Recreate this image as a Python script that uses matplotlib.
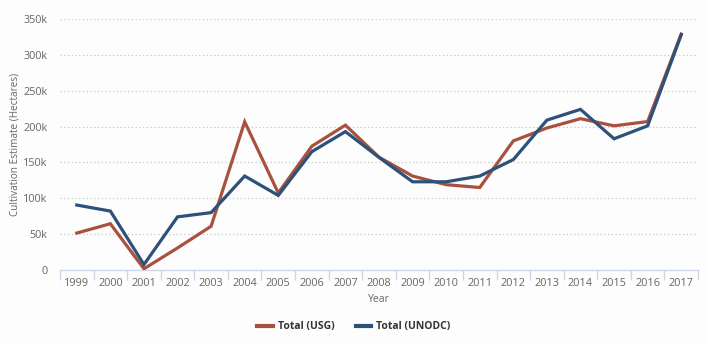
import matplotlib.pyplot as plt
from matplotlib.lines import Line2D
import numpy as np

years = ["1999", "2000", "2001", "2002", "2003", "2004", "2005", "2006", "2007",
         "2008", "2009", "2010", "2011", "2012", "2013", "2014", "2015", "2016", "2017"]
usg = [51500, 64510, 1685, 30750, 61000, 206700, 107400, 172600, 202000,
       157300, 131000, 119000, 115000, 180000, 198000, 211000, 201000, 207000, 329000]
unodc = [90583, 82171, 7606, 74100, 80000, 131000, 104000, 165000, 193000,
         157000, 123000, 123000, 131000, 154000, 209000, 224000, 183000, 201000, 328000]
y_ticks = [0, 50000, 100000, 150000, 200000, 250000, 300000, 350000]
y_tick_labels = ["0", "50k", "100k", "150k", "200k", "250k", "300k", "350k"]

RED = "#a9513f"
BLUE = "#2d5179"
BG = "#fdfdfd"

plt.rcParams["font.family"] = ["Open Sans", "DejaVu Sans"]

fig = plt.figure(figsize=(7.08, 3.44), dpi=100, facecolor=BG)
ax = fig.add_axes([60 / 708, 1 - 270 / 344, 638 / 708, 251 / 344], facecolor=BG)

x = np.arange(len(years))
ax.plot(x, usg, color=RED, lw=2.3, solid_joinstyle="miter", zorder=3)
ax.plot(x, unodc, color=BLUE, lw=2.3, solid_joinstyle="miter", zorder=4)

ax.set_xlim(-0.5, len(years) - 0.5)
ax.set_ylim(0, 350000)

ax.set_yticks(y_ticks)
ax.set_yticklabels(y_tick_labels)
for yv in y_ticks[1:]:
    ax.axhline(yv, color="#c8c8c8", lw=0.9, ls=(0, (1, 2)), zorder=1)

ax.set_xticks(x)
ax.set_xticklabels(years)
ax.set_xticks(np.arange(len(years) + 1) - 0.5, minor=True)

for side in ("top", "right", "left"):
    ax.spines[side].set_visible(False)
ax.spines["bottom"].set_color("#ccd6eb")
ax.spines["bottom"].set_linewidth(1)

ax.tick_params(axis="x", which="major", length=0, pad=6, labelsize=7.8, labelcolor="#666666")
ax.tick_params(axis="x", which="minor", length=7, width=1, color="#ccd6eb")
ax.tick_params(axis="y", length=0, pad=9, labelsize=7.8, labelcolor="#666666")

ax.set_ylabel("Cultivation Estimate (Hectares)", fontsize=7.2, color="#666666")
ax.yaxis.set_label_coords(-40 / 638, 0.5)
ax.set_xlabel("Year", fontsize=7.5, color="#666666", labelpad=3)

handles = [Line2D([], [], color=RED, lw=3), Line2D([], [], color=BLUE, lw=3)]
leg = fig.legend(handles, ["Total (USG)", "Total (UNODC)"], loc="center",
                 bbox_to_anchor=(0.5, 1 - 327 / 344), ncol=2, frameon=False,
                 handlelength=1.5, columnspacing=2.0, handletextpad=0.5,
                 prop={"size": 7.5, "weight": "bold"})
for t in leg.get_texts():
    t.set_color("#333333")

fig.savefig("out.png", dpi=100, facecolor=BG)
